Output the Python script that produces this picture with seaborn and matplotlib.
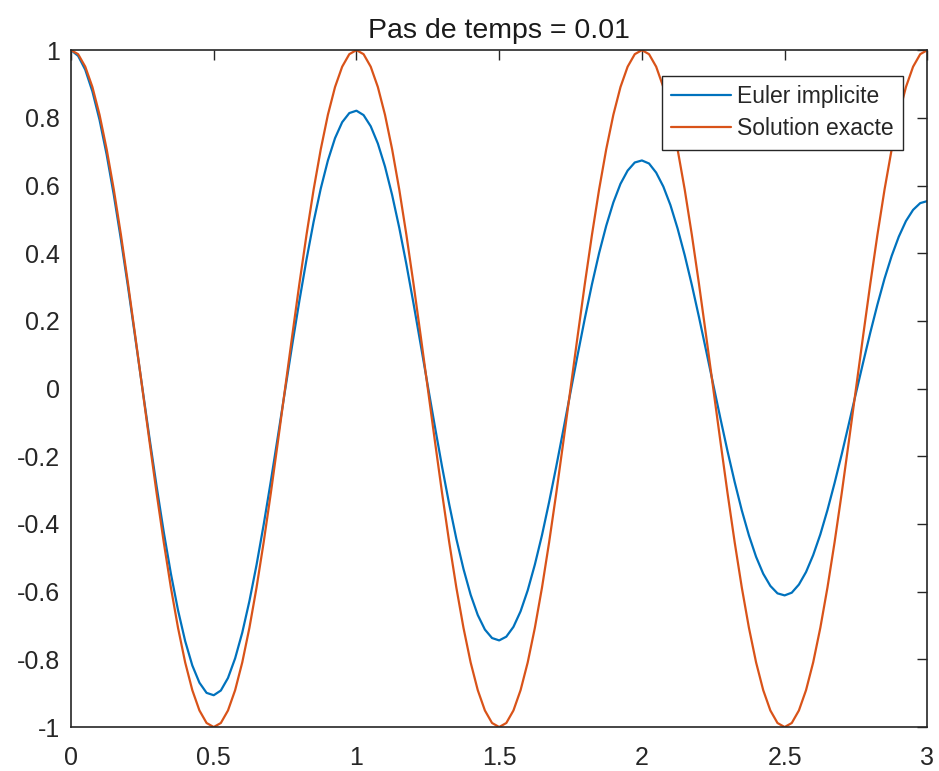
import matplotlib
matplotlib.use("Agg")
import matplotlib.pyplot as plt
import seaborn as sns
import numpy as np
import pandas as pd

# time samples (step 0.025 from 0 to 3)
t = [round(k * 0.025, 3) for k in range(121)]

euler_implicite = [
    1.000, 0.983, 0.942, 0.878, 0.794, 0.691, 0.572, 0.440, 0.299, 0.151,
    0.002, -0.146, -0.289, -0.424, -0.547, -0.655, -0.746, -0.818, -0.869, -0.899,
    -0.906, -0.892, -0.855, -0.797, -0.721, -0.628, -0.521, -0.402, -0.274, -0.140,
    -0.005, 0.129, 0.259, 0.381, 0.493, 0.591, 0.674, 0.740, 0.787, 0.814,
    0.821, 0.808, 0.775, 0.724, 0.656, 0.572, 0.475, 0.367, 0.251, 0.130,
    0.008, -0.113, -0.231, -0.342, -0.444, -0.533, -0.609, -0.669, -0.712, -0.737,
    -0.744, -0.733, -0.704, -0.658, -0.596, -0.520, -0.433, -0.335, -0.230, -0.121,
    -0.010, 0.100, 0.207, 0.308, 0.400, 0.481, 0.550, 0.605, 0.644, 0.668,
    0.674, 0.665, 0.638, 0.597, 0.542, 0.473, 0.394, 0.306, 0.211, 0.112,
    0.012, -0.088, -0.185, -0.276, -0.360, -0.434, -0.497, -0.547, -0.583, -0.605,
    -0.611, -0.603, -0.579, -0.542, -0.492, -0.431, -0.359, -0.279, -0.194, -0.104,
    -0.013, 0.077, 0.165, 0.248, 0.325, 0.392, 0.449, 0.495, 0.528, 0.548,
    0.554,
]

_period = [
    1.000, 0.988, 0.951, 0.891, 0.809, 0.707, 0.588, 0.454, 0.309, 0.156,
    0.000, -0.156, -0.309, -0.454, -0.588, -0.707, -0.809, -0.891, -0.951, -0.988,
    -1.000, -0.988, -0.951, -0.891, -0.809, -0.707, -0.588, -0.454, -0.309, -0.156,
    0.000, 0.156, 0.309, 0.454, 0.588, 0.707, 0.809, 0.891, 0.951, 0.988,
]
solution_exacte = _period * 3 + [1.000]

x_ticks = [0, 0.5, 1, 1.5, 2, 2.5, 3]
x_ticklabels = ["0", "0.5", "1", "1.5", "2", "2.5", "3"]
y_ticks = [-1, -0.8, -0.6, -0.4, -0.2, 0, 0.2, 0.4, 0.6, 0.8, 1]
y_ticklabels = ["-1", "-0.8", "-0.6", "-0.4", "-0.2", "0", "0.2", "0.4", "0.6", "0.8", "1"]

sns.set_style("white")
plt.rcParams["font.family"] = ["Liberation Sans", "DejaVu Sans"]

df = pd.DataFrame({
    "t": t * 2,
    "y": euler_implicite + solution_exacte,
    "serie": ["Euler implicite"] * len(t) + ["Solution exacte"] * len(t),
})

fig = plt.figure(figsize=(9.39, 7.71), dpi=100)
ax = fig.add_axes([0.0756, 0.057, 0.912, 0.878])
sns.lineplot(data=df, x="t", y="y", hue="serie",
             palette={"Euler implicite": "#0072BD", "Solution exacte": "#D95319"},
             linewidth=1.6, ax=ax, sort=False)

ax.set_xlim(0, 3)
ax.set_ylim(-1, 1)
ax.set_xticks(x_ticks)
ax.set_xticklabels(x_ticklabels)
ax.set_yticks(y_ticks)
ax.set_yticklabels(y_ticklabels)
ax.set_xlabel("")
ax.set_ylabel("")
ax.tick_params(direction="in", length=7, width=1, top=True, right=True,
               labelsize=18, colors="#262626")
ax.tick_params(axis="x", pad=14)
ax.tick_params(axis="y", pad=8)
for s in ax.spines.values():
    s.set_visible(True)
    s.set_color("#262626")
    s.set_linewidth(1.2)
ax.set_title("Pas de temps = 0.01", fontsize=20.5, color="#1a1a1a", pad=9)

leg = ax.legend(loc="upper right", bbox_to_anchor=(0.971, 0.9616), fontsize=16.5,
                frameon=True, fancybox=False, framealpha=1, edgecolor="#262626",
                handlelength=2.6, borderpad=0.4, labelspacing=0.4, handletextpad=0.25,
                borderaxespad=0)
leg.get_frame().set_linewidth(1.0)

fig.savefig("out.png", dpi=100, facecolor="white")
